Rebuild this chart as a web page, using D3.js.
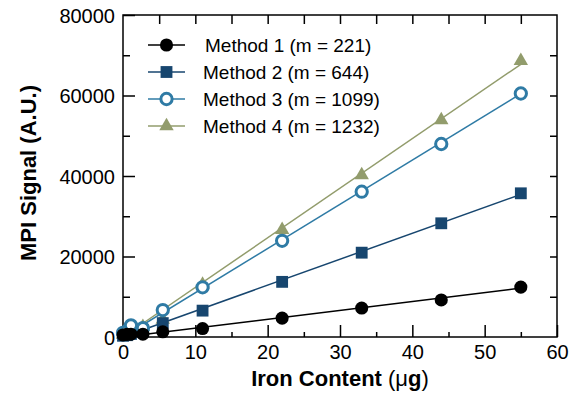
<!DOCTYPE html>
<html>
<head>
<meta charset="utf-8">
<script src="https://cdn.jsdelivr.net/npm/d3@7"></script>
<style>
  body { margin: 0; background: #fff; }
  svg { font-family: "Liberation Sans", Arial, sans-serif; }
</style>
</head>
<body>
<div id="drawArea"></div>
<script>
// iron content per sample (ug)
var ironContent = [0, 0.55, 1.1, 2.75, 5.5, 11, 22, 33, 44, 55];

// MPI signal, one array per method
var method1 = [500, 650, 700, 700, 1300, 2100, 4700, 7200, 9200, 12400];
var method2 = [300, 450, 750, 1700, 3450, 6550, 13700, 20950, 28250, 35700];
var method3 = [1050, 1500, 2900, 2200, 6700, 12350, 23900, 36100, 47950, 60500];
var method4 = [600, 900, 1600, 2500, 4300, 13000, 26600, 40250, 53900, 68600];

var slopes = [221, 644, 1099, 1232];
var legendLabels = ["Method 1 (m = 221)", "Method 2 (m = 644)", "Method 3 (m = 1099)", "Method 4 (m = 1232)"];

var xTicks = [0, 10, 20, 30, 40, 50, 60];
var yTicks = [0, 20000, 40000, 60000, 80000];

// set the dimensions and margins of the graph
var margin = {top: 15, right: 19, bottom: 57, left: 123},
  width = 576 - margin.left - margin.right,
  height = 394 - margin.top - margin.bottom;

var svg = d3.select("#drawArea")
  .append("svg")
  .attr("width", 576)
  .attr("height", 394);

var g = svg.append("g")
  .attr("transform", "translate(" + margin.left + "," + margin.top + ")");

var x = d3.scaleLinear().domain([0, 60]).range([0, width]);
var y = d3.scaleLinear().domain([0, 80000]).range([height, 0]);

// axes: ticks point inward on every side
var bottomMajor = d3.axisBottom(x).tickValues(xTicks).tickSize(-12).tickFormat(d3.format("d"));
var bottomMinor = d3.axisBottom(x).tickValues([5, 15, 25, 35, 45, 55]).tickSize(-5).tickFormat("");
var topTicks = d3.axisTop(x).tickValues(d3.range(5, 60, 5)).tickSize(-9).tickFormat("");
var leftMajor = d3.axisLeft(y).tickValues(yTicks).tickSize(-12).tickFormat(d3.format("d"));
var leftMinor = d3.axisLeft(y).tickValues([10000, 30000, 50000, 70000]).tickSize(-7).tickFormat("");
var rightTicks = d3.axisRight(y).tickValues(d3.range(10000, 80000, 10000)).tickSize(-7).tickFormat("");

function styleAxis(sel) {
  sel.select(".domain").remove();
  sel.selectAll(".tick line").attr("stroke", "#000").attr("stroke-width", 1.5);
  sel.selectAll(".tick text")
    .attr("font-family", "Liberation Sans, Arial, sans-serif")
    .attr("font-size", 20)
    .attr("fill", "#000");
}

g.append("g").attr("transform", "translate(0," + height + ")").call(bottomMajor).call(styleAxis)
  .selectAll(".tick text").attr("y", 8).attr("dy", "0.71em");
g.append("g").attr("transform", "translate(0," + height + ")").call(bottomMinor).call(styleAxis);
g.append("g").call(topTicks).call(styleAxis);
g.append("g").call(leftMajor).call(styleAxis)
  .selectAll(".tick text").attr("x", -8).attr("dy", "0.35em");
g.append("g").call(leftMinor).call(styleAxis);
g.append("g").attr("transform", "translate(" + width + ",0)").call(rightTicks).call(styleAxis);

// frame
g.append("rect")
  .attr("x", 0).attr("y", 0)
  .attr("width", width).attr("height", height)
  .attr("fill", "none").attr("stroke", "#000").attr("stroke-width", 1.5);

var series = [
  {name: legendLabels[0], values: method1, m: slopes[0], color: "#000000", shape: d3.symbolCircle, size: 135, fill: true},
  {name: legendLabels[1], values: method2, m: slopes[1], color: "#17466f", shape: d3.symbolSquare, size: 140, fill: true},
  {name: legendLabels[2], values: method3, m: slopes[2], color: "#2f7ba5", shape: d3.symbolCircle, size: 100, fill: false},
  {name: legendLabels[3], values: method4, m: slopes[3], color: "#929c6c", shape: d3.symbolTriangle, size: 90, fill: true}
];

function drawMarker(sel, s) {
  sel.append("path")
    .attr("d", d3.symbol().type(s.shape).size(s.size))
    .attr("fill", s.fill ? s.color : "#fff")
    .attr("stroke", s.color)
    .attr("stroke-width", s.fill ? 0 : 3);
}

// fitted lines (y = m * x)
series.forEach(function (s) {
  g.append("line")
    .attr("x1", x(0)).attr("y1", y(0))
    .attr("x2", x(55)).attr("y2", y(s.m * 55))
    .attr("stroke", s.color)
    .attr("stroke-width", 1.5);
});

// markers, drawn so that method 1 is on top
[3, 1, 2, 0].forEach(function (k) {
  var s = series[k];
  g.selectAll("g.pt" + k)
    .data(ironContent.map(function (v, i) { return {x: v, y: s.values[i]}; }))
    .enter()
    .append("g")
      .attr("class", "pt" + k)
      .attr("transform", function (d) { return "translate(" + x(d.x) + "," + y(d.y) + ")"; })
      .each(function () { drawMarker(d3.select(this), s); });
});

// legend
var legend = svg.append("g").attr("transform", "translate(148,45)");
series.forEach(function (s, i) {
  var row = legend.append("g").attr("transform", "translate(0," + (i * 27) + ")");
  row.append("line").attr("x1", 0).attr("x2", 37).attr("y1", 0).attr("y2", 0)
    .attr("stroke", s.color).attr("stroke-width", 1.6);
  var mk = row.append("g").attr("transform", "translate(18.5,0)");
  drawMarker(mk, s);
  row.append("text")
    .attr("x", i === 0 ? 57 : 55)
    .attr("dy", "0.35em")
    .attr("font-size", 19)
    .attr("fill", "#000")
    .text(s.name);
});

// axis titles
svg.append("text")
  .attr("x", margin.left + width / 2)
  .attr("y", 386)
  .attr("text-anchor", "middle")
  .attr("font-size", 22)
  .attr("font-weight", "bold")
  .html('Iron Content <tspan font-weight="normal">(μ</tspan>g<tspan font-weight="normal">)</tspan>');

svg.append("text")
  .attr("transform", "translate(36," + (margin.top + height / 2 - 3) + ") rotate(-90)")
  .attr("text-anchor", "middle")
  .attr("font-size", 22)
  .attr("font-weight", "bold")
  .text("MPI Signal (A.U.)");
</script>
</body>
</html>
